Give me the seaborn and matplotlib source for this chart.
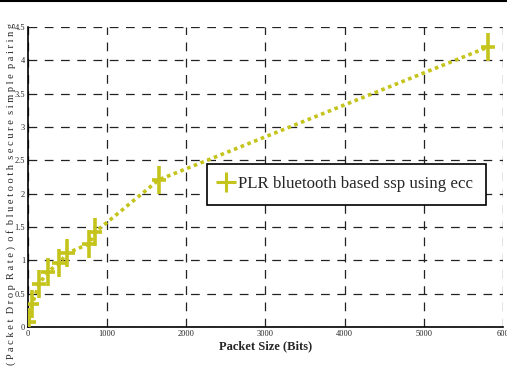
import matplotlib
matplotlib.use("Agg")
import matplotlib.pyplot as plt
import seaborn as sns
import pandas as pd
from matplotlib.lines import Line2D

sns.set_theme(style="white")
plt.rcParams['font.family'] = ['Liberation Serif', 'DejaVu Serif']

packet_size = [10, 55, 143, 256, 396, 500, 775, 846, 1655, 5808]
plr = [0.08, 0.35, 0.65, 0.83, 0.96, 1.11, 1.25, 1.42, 2.21, 4.20]
series_label = "PLR bluetooth based ssp using ecc"
xticks = [0, 1000, 2000, 3000, 4000, 5000, 6000]
xtick_labels = ["0", "1000", "2000", "3000", "4000", "5000", "600"]
yticks = [0, 0.5, 1, 1.5, 2, 2.5, 3, 3.5, 4, 4.5]
ytick_labels = ["0", "0.5", "1", "1.5", "2", "2.5", "3", "3.5", "4", "4.5"]

df = pd.DataFrame({"size": packet_size, "plr": plr})
color = "#c4c41c"

fig = plt.figure(figsize=(5.07, 3.67), dpi=100)
ax = fig.add_axes([0.055, 0.109, 0.937, 0.817])

sns.lineplot(data=df, x="size", y="plr", ax=ax, color=color, lw=2.6,
             linestyle=(0, (1, 1)), legend=False)
ax.errorbar(df["size"], df["plr"], xerr=90, yerr=0.21, fmt="none",
            ecolor=color, elinewidth=2.6, capsize=0, zorder=3)

ax.set_xlim(0, 6000)
ax.set_ylim(0, 4.5)
ax.set_xticks(xticks)
ax.set_xticklabels(xtick_labels, fontsize=6)
ax.set_yticks(yticks)
ax.set_yticklabels(ytick_labels, fontsize=6)
ax.tick_params(axis="both", length=0, pad=2)
ax.grid(True, color="#222222", linestyle=(0, (7, 6)), linewidth=0.9)
for s in ["top", "right"]:
    ax.spines[s].set_visible(False)
for s in ["left", "bottom"]:
    ax.spines[s].set_color("black")
    ax.spines[s].set_linewidth(1.2)

ax.set_xlabel("Packet Size (Bits)", fontsize=9, fontweight="bold", labelpad=2)
ax.set_ylabel("")

ylab = "( P a c k e t  D r o p  R a t e )  o f  b l u e t o o t h  s e c u r e  s i m p l e  p a i r i n g"
fig.text(0.012, 0.005, ylab, rotation=90, fontsize=7.5, va="bottom", ha="left")

handle = Line2D([], [], color=color, marker="+", markersize=15, markeredgewidth=2.2, linestyle="none")
leg = ax.legend([handle], [series_label], loc="upper left",
                bbox_to_anchor=(0.377, 0.545), fontsize=12.2, frameon=True,
                fancybox=False, framealpha=1, edgecolor="black",
                handlelength=0.8, handletextpad=0.3, borderpad=0.75, borderaxespad=0)
leg.get_frame().set_linewidth(1.2)

fig.add_artist(Line2D([0, 1], [0.997, 0.997], color="black", lw=1.5, transform=fig.transFigure))

fig.savefig("out.png", dpi=100)
